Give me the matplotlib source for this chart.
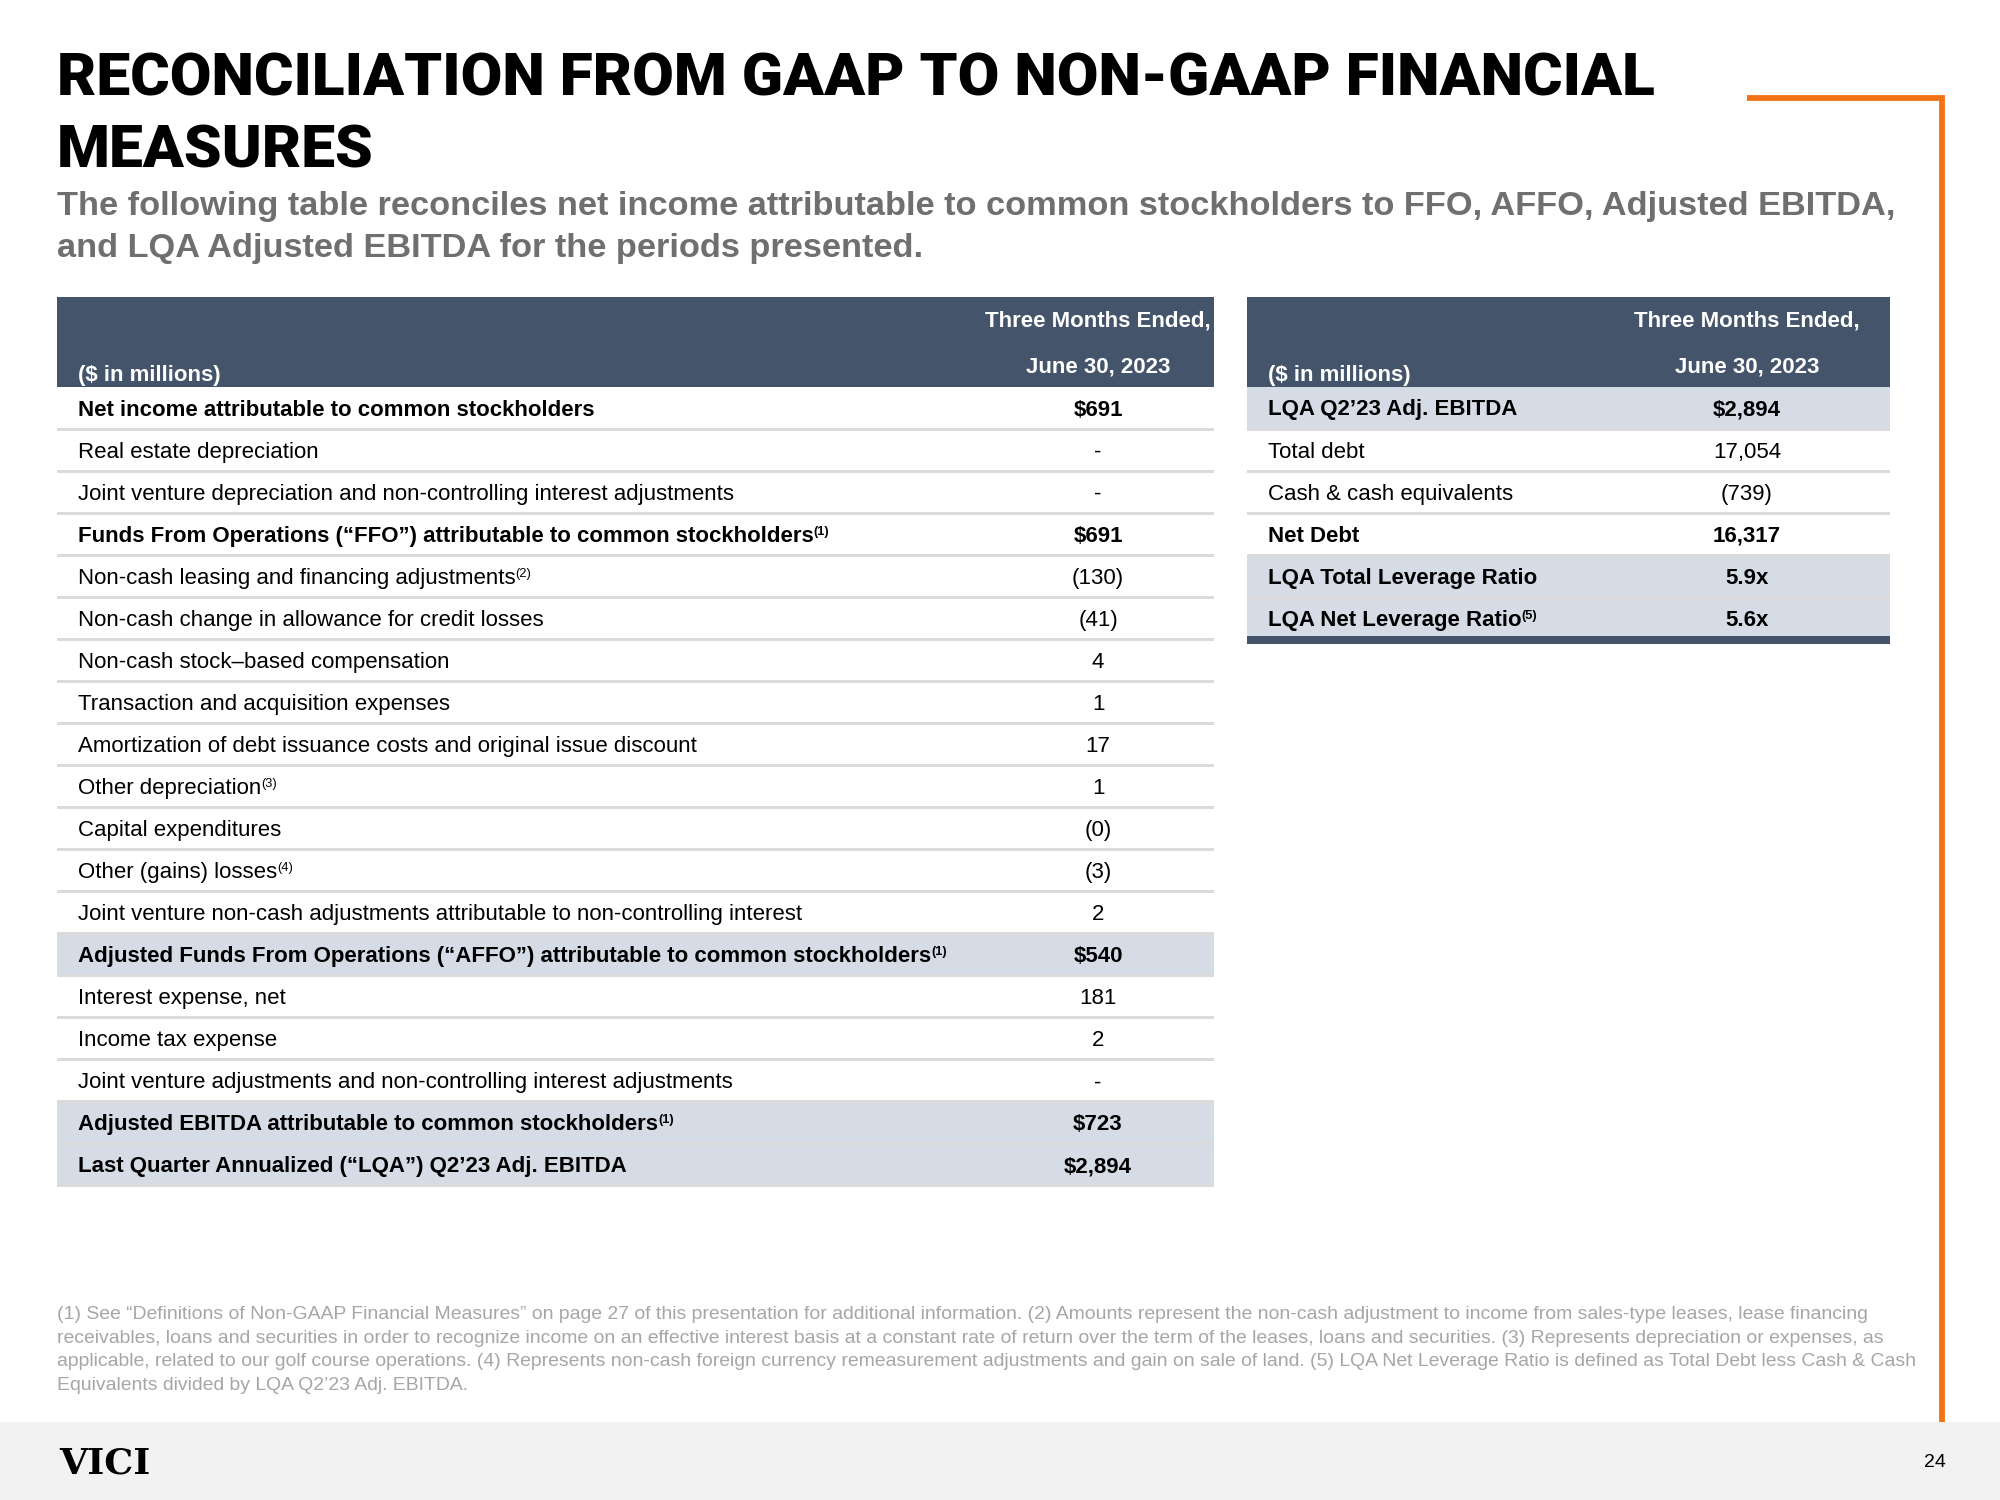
import matplotlib
matplotlib.use("Agg")
import matplotlib.pyplot as plt
from matplotlib.patches import Rectangle

W, H = 2000, 1500

# colours
NAVY = "#44546a"
SHADE = "#d6dce5"
SEP = "#dadada"
ORANGE = "#f47216"
GREY_TXT = "#6f6f6f"
NOTE_TXT = "#a6a6a6"
FOOT_BG = "#f2f2f2"

SANS = ["Liberation Sans", "DejaVu Sans"]
NARROW = ["Liberation Sans Narrow", "Roboto", "DejaVu Sans"]
SERIF = ["DejaVu Serif", "Liberation Serif"]

title_lines = ["RECONCILIATION FROM GAAP TO NON-GAAP FINANCIAL", "MEASURES"]
subtitle_lines = [
    "The following table reconciles net income attributable to common stockholders to FFO, AFFO, Adjusted EBITDA,",
    "and LQA Adjusted EBITDA for the periods presented.",
]

header_unit = "($ in millions)"
header_period = ["Three Months Ended,", "June 30, 2023"]

left_labels = [
    "Net income attributable to common stockholders",
    "Real estate depreciation",
    "Joint venture depreciation and non-controlling interest adjustments",
    "Funds From Operations (“FFO”) attributable to common stockholders",
    "Non-cash leasing and financing adjustments",
    "Non-cash change in allowance for credit losses",
    "Non-cash stock–based compensation",
    "Transaction and acquisition expenses",
    "Amortization of debt issuance costs and original issue discount",
    "Other depreciation",
    "Capital expenditures",
    "Other (gains) losses",
    "Joint venture non-cash adjustments attributable to non-controlling interest",
    "Adjusted Funds From Operations (“AFFO”) attributable to common stockholders",
    "Interest expense, net",
    "Income tax expense",
    "Joint venture adjustments and non-controlling interest adjustments",
    "Adjusted EBITDA attributable to common stockholders",
    "Last Quarter Annualized (“LQA”) Q2’23 Adj. EBITDA",
]
left_values = ["$691", "-", "-", "$691", "(130)", "(41)", "4", "1", "17", "1",
               "(0)", "(3)", "2", "$540", "181", "2", "-", "$723", "$2,894"]
left_notes = ["", "", "", "(1)", "(2)", "", "", "", "", "(3)",
              "", "(4)", "", "(1)", "", "", "", "(1)", ""]
left_bold = [0, 3, 13, 17, 18]
left_shaded = [13, 17, 18]

right_labels = [
    "LQA Q2’23 Adj. EBITDA",
    "Total debt",
    "Cash & cash equivalents",
    "Net Debt",
    "LQA Total Leverage Ratio",
    "LQA Net Leverage Ratio",
]
right_values = ["$2,894", "17,054", "(739)", "16,317", "5.9x", "5.6x"]
right_notes = ["", "", "", "", "", "(5)"]
right_bold = [0, 3, 4, 5]
right_shaded = [0, 4, 5]

footnote_lines = [
    "(1) See “Definitions of Non-GAAP Financial Measures” on page 27 of this presentation for additional information. (2) Amounts represent the non-cash adjustment to income from sales-type leases, lease financing",
    "receivables, loans and securities in order to recognize income on an effective interest basis at a constant rate of return over the term of the leases, loans and securities. (3) Represents depreciation or expenses, as",
    "applicable, related to our golf course operations. (4) Represents non-cash foreign currency remeasurement adjustments and gain on sale of land. (5) LQA Net Leverage Ratio is defined as Total Debt less Cash & Cash",
    "Equivalents divided by LQA Q2’23 Adj. EBITDA.",
]
logo_text = "VICI"
page_no = "24"


fig = plt.figure(figsize=(20, 15), dpi=100)
ax = fig.add_axes([0, 0, 1, 1])
ax.set_xlim(0, W)
ax.set_ylim(H, 0)
ax.axis("off")
renderer = fig.canvas.get_renderer()


def fit_size(txt, width, **kw):
    t = ax.text(0, 0, txt, fontsize=10, **kw)
    w = t.get_window_extent(renderer).width
    t.remove()
    return 10 * width / w


def label_with_note(x, y, txt, note, size, weight):
    t = ax.text(x, y, txt, fontsize=size, fontweight=weight, family=SANS,
                color="black", va="baseline", ha="left")
    if note:
        x1 = t.get_window_extent(renderer).x1
        ax.text(x1, y - 7, note, fontsize=size * 0.58, fontweight=weight,
                family=SANS, color="black", va="baseline", ha="left")


# title + subtitle
tsize = fit_size(title_lines[0], 1597, fontweight="black", family=NARROW)
for line, yb in zip(title_lines, [96, 168]):
    ax.text(57, yb, line, fontsize=tsize, fontweight="black", family=NARROW,
            color="black", va="baseline")

ssize = fit_size(subtitle_lines[0], 1841, fontweight="bold", family=SANS)
for line, yb in zip(subtitle_lines, [215, 257]):
    ax.text(57, yb, line, fontsize=ssize, fontweight="bold", family=SANS,
            color=GREY_TXT, va="baseline")

# orange bracket
ax.plot([1747, 1942, 1942], [98, 98, 1422], color=ORANGE, lw=4.2,
        solid_joinstyle="miter", solid_capstyle="butt")

body = fit_size(left_labels[0], 518, fontweight="bold", family=SANS)
hsize = fit_size(header_period[0], 227, fontweight="bold", family=SANS)

HEAD_TOP, HEAD_BOT = 297, 387
ROW_H = 42.05


def draw_table(x0, x1, label_x, value_x, labels, values, notes, bold, shaded, bottom_bar):
    ax.add_patch(Rectangle((x0, HEAD_TOP), x1 - x0, HEAD_BOT - HEAD_TOP,
                           facecolor=NAVY, edgecolor="none"))
    ax.text(label_x, 381, header_unit, fontsize=hsize, fontweight="bold",
            family=SANS, color="white", va="baseline")
    for line, yb in zip(header_period, [327, 372]):
        ax.text(value_x, yb, line, fontsize=hsize, fontweight="bold",
                family=SANS, color="white", va="baseline", ha="center")
    for i, (lab, val, note) in enumerate(zip(labels, values, notes)):
        top = HEAD_BOT + i * ROW_H
        if i in shaded:
            ax.add_patch(Rectangle((x0, top), x1 - x0, ROW_H,
                                   facecolor=SHADE, edgecolor="none"))
        ax.add_patch(Rectangle((x0, top + ROW_H - 1.5), x1 - x0, 3,
                               facecolor=SEP, edgecolor="none", zorder=2))
        w = "bold" if i in bold else "normal"
        label_with_note(label_x, top + 28.5, lab, note, body, w)
        ax.text(value_x, top + 28.5, val, fontsize=body, fontweight=w,
                family=SANS, color="black", va="baseline", ha="center")
    if bottom_bar:
        yb = HEAD_BOT + len(labels) * ROW_H
        ax.add_patch(Rectangle((x0, yb - 3), x1 - x0, 7.5, facecolor=NAVY,
                               edgecolor="none", zorder=3))


draw_table(57, 1214, 78, 1098, left_labels, left_values, left_notes,
           left_bold, left_shaded, False)
draw_table(1247, 1890, 1268, 1747, right_labels, right_values, right_notes,
           right_bold, right_shaded, True)

# footnotes
fsize = fit_size(footnote_lines[0], 1815, family=SANS)
for k, line in enumerate(footnote_lines):
    ax.text(57, 1319 + k * 23.7, line, fontsize=fsize, family=SANS,
            color=NOTE_TXT, va="baseline")

# footer band
ax.add_patch(Rectangle((0, 1422), W, H - 1422, facecolor=FOOT_BG, edgecolor="none"))
lsize = fit_size(logo_text, 92, fontweight="bold", family=SERIF)
ax.text(59, 1473, logo_text, fontsize=lsize, fontweight="bold", family=SERIF,
        color="black", va="baseline")
ax.text(1946, 1467, page_no, fontsize=14, family=SANS, color="black",
        va="baseline", ha="right")

fig.savefig("out.png", dpi=100, facecolor="white")
